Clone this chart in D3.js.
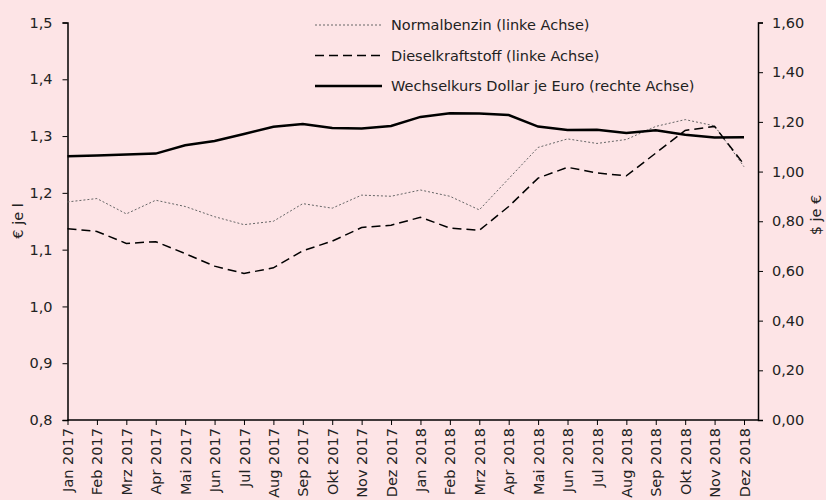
<!DOCTYPE html>
<html>
<head>
<meta charset="utf-8">
<script src="https://cdn.jsdelivr.net/npm/d3@7"></script>
<style>
  html, body { margin: 0; padding: 0; background: #fde4e6; }
  svg { display: block; }
  text { font-family: "DejaVu Sans", sans-serif; fill: #222; }
</style>
</head>
<body>
<svg id="chart" width="826" height="500"></svg>
<script>
// Monthly categories
const months = [
  "Jan 2017", "Feb 2017", "Mrz 2017", "Apr 2017", "Mai 2017", "Jun 2017",
  "Jul 2017", "Aug 2017", "Sep 2017", "Okt 2017", "Nov 2017", "Dez 2017",
  "Jan 2018", "Feb 2018", "Mrz 2018", "Apr 2018", "Mai 2018", "Jun 2018",
  "Jul 2018", "Aug 2018", "Sep 2018", "Okt 2018", "Nov 2018", "Dez 2018"
];

// Fuel prices, € per litre (left axis)
const normalbenzin = [
  1.184, 1.190, 1.163, 1.187, 1.176, 1.158, 1.144, 1.150, 1.181, 1.173, 1.196, 1.194,
  1.205, 1.194, 1.170, 1.225, 1.280, 1.295, 1.287, 1.294, 1.317, 1.329, 1.318, 1.246
];
const diesel = [
  1.137, 1.132, 1.111, 1.114, 1.093, 1.071, 1.058, 1.068, 1.098, 1.115, 1.139, 1.143,
  1.157, 1.138, 1.134, 1.176, 1.226, 1.245, 1.235, 1.230, 1.270, 1.310, 1.317, 1.250
];

// Exchange rate, dollar per euro (right axis)
const wechselkurs = [
  1.0614, 1.0643, 1.0685, 1.0723, 1.1058, 1.1229, 1.1511, 1.1807, 1.1915, 1.1756, 1.1738, 1.1836,
  1.2200, 1.2348, 1.2336, 1.2276, 1.1812, 1.1678, 1.1686, 1.1549, 1.1659, 1.1484, 1.1367, 1.1384
];

// Axis ticks
const leftTicks = [0.8, 0.9, 1.0, 1.1, 1.2, 1.3, 1.4, 1.5];
const rightTicks = [0, 0.2, 0.4, 0.6, 0.8, 1.0, 1.2, 1.4, 1.6];

const legendLabels = [
  "Normalbenzin (linke Achse)",
  "Dieselkraftstoff (linke Achse)",
  "Wechselkurs Dollar je Euro (rechte Achse)"
];

const svg = d3.select("#chart");
const plot = { left: 67.5, right: 758, top: 22.5, bottom: 420 };

const x = d3.scalePoint().domain(months).range([plot.left, 744]);
const yL = d3.scaleLinear().domain([0.8, 1.5]).range([plot.bottom, plot.top]);
const yR = d3.scaleLinear().domain([0, 1.6]).range([plot.bottom, plot.top]);

const fmt1 = v => d3.format(".1f")(v).replace(".", ",");
const fmt2 = v => d3.format(".2f")(v).replace(".", ",");

// Left axis
const gL = svg.append("g")
  .attr("transform", `translate(${plot.left},0)`)
  .call(d3.axisLeft(yL).tickValues(leftTicks).tickFormat(fmt1).tickSize(5).tickPadding(10));
// Right axis
const gR = svg.append("g")
  .attr("transform", `translate(${plot.right},0)`)
  .call(d3.axisRight(yR).tickValues(rightTicks).tickFormat(fmt2).tickSize(5).tickPadding(9));
// Bottom axis
const gB = svg.append("g")
  .attr("transform", `translate(0,${plot.bottom})`)
  .call(d3.axisBottom(x).tickSize(5).tickPadding(3));
gB.select(".domain").attr("d", `M${plot.left},0H${plot.right}`);
gB.selectAll(".tick text")
  .attr("transform", "rotate(-90)")
  .attr("text-anchor", "end")
  .attr("x", -8)
  .attr("y", 0)
  .attr("dy", "0.35em");

[gL, gR, gB].forEach(g => {
  g.selectAll(".domain").attr("stroke", "#000").attr("stroke-width", 1.5);
  g.selectAll(".tick line").attr("stroke", "#000").attr("stroke-width", 1);
  g.selectAll(".tick text").style("font-size", "14.5px").style("font-family", "DejaVu Sans, sans-serif").attr("fill", "#222");
});

// Axis titles
svg.append("text")
  .attr("transform", "translate(23,221) rotate(-90)")
  .attr("text-anchor", "middle")
  .style("font-size", "14.5px")
  .text("€ je l");
svg.append("text")
  .attr("transform", "translate(821,215) rotate(-90)")
  .attr("text-anchor", "middle")
  .style("font-size", "14.5px")
  .text("$ je €");

// Series
const series = [
  { values: normalbenzin, y: yL, stroke: "#666", width: 1, dash: "2,2" },
  { values: diesel, y: yL, stroke: "#000", width: 1.5, dash: "9,5" },
  { values: wechselkurs, y: yR, stroke: "#000", width: 2.5, dash: null }
];

series.forEach(s => {
  const line = d3.line()
    .x((d, i) => x(months[i]))
    .y(d => s.y(d));
  svg.append("path")
    .datum(s.values)
    .attr("d", line)
    .attr("fill", "none")
    .attr("stroke", s.stroke)
    .attr("stroke-width", s.width)
    .attr("stroke-dasharray", s.dash);
});

// Legend
const legend = svg.append("g");
series.forEach((s, i) => {
  const ly = 25 + i * 30.5;
  legend.append("line")
    .attr("x1", 315).attr("x2", 382)
    .attr("y1", ly).attr("y2", ly)
    .attr("stroke", s.stroke)
    .attr("stroke-width", s.width)
    .attr("stroke-dasharray", s.dash);
  legend.append("text")
    .attr("x", 391)
    .attr("y", ly)
    .attr("dy", "0.35em")
    .style("font-size", "14.5px")
    .text(legendLabels[i]);
});
</script>
</body>
</html>
